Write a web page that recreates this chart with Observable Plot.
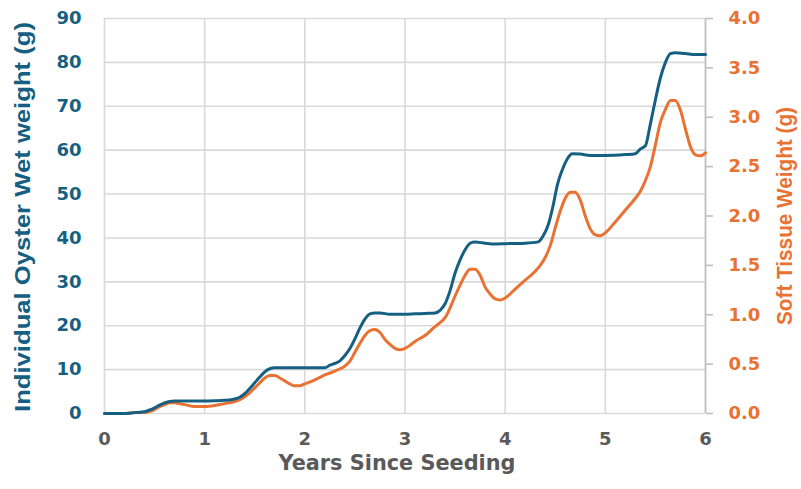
<!DOCTYPE html>
<html>
<head>
<meta charset="utf-8">
<script src="https://cdn.jsdelivr.net/npm/d3@7"></script>
<script src="https://cdn.jsdelivr.net/npm/@observablehq/plot@0.6"></script>
<style>
  html, body { margin: 0; padding: 0; background: #ffffff; }
  #chart svg g[aria-label$="tick label"] {
    font-size: 18px !important;
    font-weight: bold !important;
    font-family: 'DejaVu Sans', sans-serif !important;
  }
</style>
</head>
<body>
<div id="chart"></div>
<script>
// ---- Data ----
const wetYears = [0, 0.2, 0.3, 0.4, 0.45, 0.5, 0.55, 0.6, 0.65, 0.7, 0.8, 0.9, 1.0, 1.1, 1.2, 1.3, 1.35, 1.4, 1.45, 1.5, 1.55, 1.6, 1.65, 1.7, 1.8, 2.0, 2.2, 2.25, 2.3, 2.35, 2.4, 2.45, 2.5, 2.55, 2.6, 2.65, 2.7, 2.75, 2.85, 3.0, 3.1, 3.2, 3.3, 3.35, 3.4, 3.45, 3.5, 3.55, 3.6, 3.65, 3.7, 3.8, 3.9, 4.0, 4.2, 4.33, 4.38, 4.43, 4.48, 4.52, 4.57, 4.62, 4.67, 4.75, 4.85, 5.0, 5.2, 5.3, 5.35, 5.4, 5.45, 5.5, 5.55, 5.6, 5.65, 5.7, 5.8, 5.9, 6.0];
const wetWeight = [0, 0, 0.2, 0.4, 0.8, 1.3, 1.9, 2.4, 2.75, 2.85, 2.85, 2.85, 2.85, 2.9, 3.0, 3.3, 3.7, 4.5, 5.7, 7.0, 8.3, 9.5, 10.2, 10.4, 10.4, 10.4, 10.4, 11.0, 11.4, 12.0, 13.2, 14.8, 17.0, 19.5, 21.5, 22.7, 22.9, 22.9, 22.6, 22.6, 22.7, 22.8, 22.9, 23.5, 25.0, 28.0, 32.0, 35.0, 37.3, 38.8, 39.1, 38.8, 38.6, 38.7, 38.8, 39.1, 40.5, 43.0, 47.5, 52.0, 55.5, 58.0, 59.2, 59.1, 58.8, 58.8, 59.0, 59.2, 60.3, 61.0, 66.0, 71.5, 76.5, 80.0, 82.0, 82.2, 82.0, 81.8, 81.8];

const tissueYears = [0, 0.2, 0.3, 0.4, 0.45, 0.5, 0.55, 0.6, 0.65, 0.7, 0.75, 0.8, 0.9, 1.0, 1.1, 1.2, 1.3, 1.35, 1.4, 1.45, 1.5, 1.55, 1.6, 1.65, 1.7, 1.75, 1.8, 1.85, 1.9, 1.95, 2.0, 2.1, 2.2, 2.3, 2.4, 2.45, 2.5, 2.55, 2.6, 2.65, 2.7, 2.75, 2.8, 2.85, 2.9, 2.95, 3.0, 3.05, 3.1, 3.2, 3.3, 3.35, 3.4, 3.45, 3.5, 3.55, 3.6, 3.65, 3.7, 3.75, 3.8, 3.85, 3.9, 3.95, 4.0, 4.1, 4.2, 4.3, 4.35, 4.4, 4.45, 4.5, 4.55, 4.6, 4.65, 4.7, 4.75, 4.8, 4.85, 4.9, 4.95, 5.0, 5.1, 5.2, 5.3, 5.35, 5.4, 5.45, 5.5, 5.55, 5.6, 5.65, 5.7, 5.75, 5.8, 5.85, 5.9, 5.95, 6.0];
const tissueWeight = [0, 0, 0.01, 0.01, 0.02, 0.04, 0.07, 0.09, 0.11, 0.11, 0.10, 0.09, 0.07, 0.07, 0.08, 0.10, 0.12, 0.14, 0.17, 0.21, 0.26, 0.31, 0.36, 0.385, 0.385, 0.36, 0.33, 0.30, 0.28, 0.28, 0.30, 0.34, 0.39, 0.43, 0.48, 0.53, 0.62, 0.71, 0.79, 0.84, 0.85, 0.82, 0.75, 0.70, 0.66, 0.645, 0.66, 0.69, 0.73, 0.79, 0.88, 0.92, 0.97, 1.07, 1.19, 1.30, 1.40, 1.46, 1.46, 1.40, 1.28, 1.21, 1.16, 1.15, 1.17, 1.26, 1.35, 1.44, 1.50, 1.58, 1.70, 1.88, 2.05, 2.18, 2.24, 2.24, 2.16, 2.00, 1.87, 1.81, 1.80, 1.83, 1.94, 2.06, 2.18, 2.25, 2.36, 2.50, 2.72, 2.95, 3.08, 3.17, 3.17, 3.07, 2.88, 2.70, 2.62, 2.61, 2.64];

const xTicks = [0, 1, 2, 3, 4, 5, 6];
const leftTicks = [0, 10, 20, 30, 40, 50, 60, 70, 80, 90];
const rightTicks = [0, 0.5, 1.0, 1.5, 2.0, 2.5, 3.0, 3.5, 4.0];

const xLabel = "Years Since Seeding";
const leftLabel = "Individual Oyster Wet weight (g)";
const rightLabel = "Soft Tissue Weight (g)";

const blue = "#156082";
const orange = "#E97132";

// right axis maps 0–4 onto the left axis 0–90
const k = 90 / 4;

const wet = wetYears.map((x, i) => ({x, y: wetWeight[i]}));
const tissue = tissueYears.map((x, i) => ({x, y: tissueWeight[i] * k}));

const chart = Plot.plot({
  width: 801,
  height: 489,
  marginLeft: 104,
  marginRight: 96,
  marginTop: 18,
  marginBottom: 76,
  style: "font-family: 'DejaVu Sans', sans-serif; font-weight: bold; font-size: 18px; background: #ffffff;",
  x: {domain: [0, 6]},
  y: {domain: [0, 90]},
  marks: [
    Plot.gridX(xTicks, {stroke: "#d9d9d9", strokeOpacity: 1, strokeWidth: 1.6}),
    Plot.gridY(leftTicks, {stroke: "#d9d9d9", strokeOpacity: 1, strokeWidth: 1.6}),
    Plot.ruleX([6], {stroke: "#bfbfbf", strokeWidth: 1.6}),
    Plot.axisX(xTicks, {tickSize: 0, tickPadding: 19, fill: "#595959", label: null, tickFormat: d => String(d)}),
    Plot.axisY(leftTicks, {tickSize: 0, tickPadding: 23, fill: blue, label: null}),
    Plot.axisY(rightTicks.map(v => v * k), {
      anchor: "right", tickSize: 7, tickPadding: 16, stroke: "#bfbfbf", strokeWidth: 1.6,
      fill: orange, label: null, tickFormat: d => (d / k).toFixed(1)
    }),
    Plot.line(tissue, {x: "x", y: "y", stroke: orange, strokeWidth: 3, curve: "monotone-x"}),
    Plot.line(wet, {x: "x", y: "y", stroke: blue, strokeWidth: 3, curve: "monotone-x"})
  ]
});

document.getElementById("chart").appendChild(chart);

const svg = d3.select(chart);
svg.append("text")
  .attr("transform", "translate(30,217) rotate(-90)")
  .attr("text-anchor", "middle")
  .attr("fill", blue)
  .attr("textLength", 390)
  .attr("lengthAdjust", "spacingAndGlyphs")
  .style("font", "bold 22px 'Liberation Sans', sans-serif")
  .text(leftLabel);

svg.append("text")
  .attr("transform", "translate(792,216) rotate(-90)")
  .attr("text-anchor", "middle")
  .attr("fill", orange)
  .attr("textLength", 218)
  .attr("lengthAdjust", "spacingAndGlyphs")
  .style("font", "bold 22px 'Liberation Sans', sans-serif")
  .text(rightLabel);

svg.append("text")
  .attr("x", 397)
  .attr("y", 470)
  .attr("text-anchor", "middle")
  .attr("fill", "#595959")
  .attr("textLength", 237)
  .attr("lengthAdjust", "spacingAndGlyphs")
  .style("font", "bold 21px 'DejaVu Sans', sans-serif")
  .text(xLabel);
</script>
</body>
</html>
